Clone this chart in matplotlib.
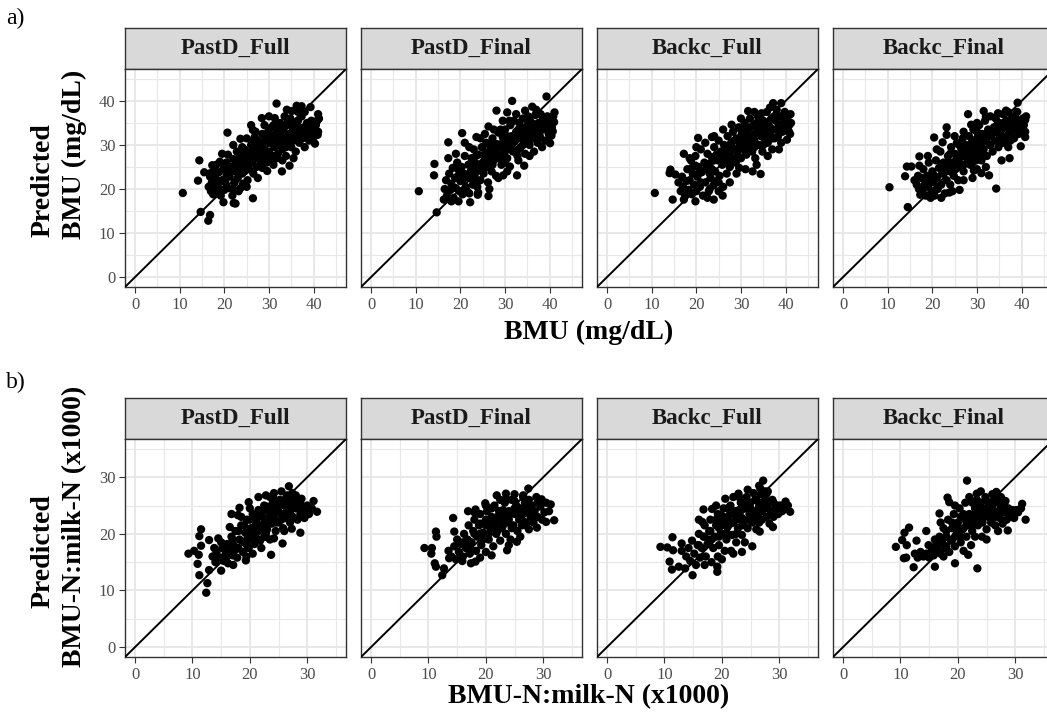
import matplotlib
matplotlib.use("Agg")
import matplotlib.pyplot as plt
from matplotlib.ticker import MultipleLocator

plt.rcParams['font.family'] = ['Liberation Serif', 'DejaVu Serif']

# ---------------- data ----------------
panel_titles = ["PastD_Full", "PastD_Final", "Backc_Full", "Backc_Final"]
row_a_xlabel = "BMU (mg/dL)"
row_b_xlabel = "BMU-N:milk-N (x1000)"
row_a_ylabel = ["Predicted", "BMU (mg/dL)"]
row_b_ylabel = ["Predicted", "BMU-N:milk-N (x1000)"]
row_a_ticks = [0, 10, 20, 30, 40]
row_b_ticks = [0, 10, 20, 30]
row_a_limits = (0, 45)
row_b_limits = (0, 35)

a_pastd_full = [
    (10.7,19.1),(14.7,14.8),(16.8,14.1),(16.4,12.8),(14.4,26.5),(14.1,21.9),(15.5,23.8),(17.3,25.4),(16.9,23.6),(20.7,32.8),
    (19.8,17.0),(22.1,16.8),(22.5,16.7),(26.4,17.9),(23.6,31.4),(31.7,39.4),(36.2,38.9),(37.3,38.8),(39.3,38.6),(41.0,37.0),
    (40.3,30.3),(40.9,32.3),(32.9,24.0),(34.6,25.3),(29.6,24.1),(28.4,36.1),(31.3,36.1),(35.1,37.7),(26.4,33.4),(26.6,31.2),
    (23.0,24.4),(23.6,20.2),(16.5,20.5),(17.0,19.5),(17.2,21.5),(17.5,18.8),(17.8,20.2),(18.0,22.5),(18.3,19.0),(18.5,21.0),
    (18.8,23.8),(19.0,20.0),(19.2,18.5),(19.5,22.0),(19.8,24.5),(20.0,19.8),(20.2,21.5),(20.5,26.0),(20.5,23.0),(16.8,22.8),
    (17.5,24.0),(18.2,25.5),(19.0,26.2),(20.8,27.8),(21.0,20.2),(21.2,22.8),(21.5,25.0),(21.8,18.5),(22.0,26.8),(22.3,21.5),
    (22.5,24.0),(22.8,28.5),(23.0,22.5),(23.2,19.5),(23.5,26.0),(23.8,27.8),(24.0,23.5),(24.2,21.2),(24.5,29.0),(24.8,25.2),
    (25.0,27.0),(25.2,22.0),(25.5,24.5),(25.8,28.2),(26.0,30.0),(26.2,26.0),(26.5,23.5),(26.8,27.5),(27.0,29.5),(27.2,25.0),
    (27.5,31.0),(27.8,28.0),(28.0,26.5),(28.2,30.0),(28.5,32.5),(28.8,27.0),(29.0,29.0),(29.2,31.5),(29.5,26.0),(29.8,33.0),
    (30.0,28.5),(30.2,30.5),(30.5,32.0),(30.8,27.5),(31.0,34.5),(31.2,29.5),(31.5,31.0),(31.8,33.5),(32.0,28.0),(32.2,30.5),
    (32.5,35.0),(32.8,32.0),(33.0,29.0),(33.2,33.5),(33.5,31.0),(33.8,27.5),(34.0,34.5),(34.2,30.0),(34.5,32.5),(34.8,36.0),
    (35.0,29.5),(35.2,33.0),(35.5,31.0),(35.8,34.5),(36.0,28.5),(36.2,32.0),(36.5,35.5),(36.8,30.5),(37.0,33.5),(37.3,36.5),
    (37.5,31.5),(37.8,34.0),(38.0,29.5),(38.3,32.5),(38.5,35.0),(38.8,33.0),(39.0,31.0),(39.5,34.0),(40.0,33.5),(40.5,34.5),
    (40.8,35.5),(41.0,33.0),(41.2,36.0),(40.2,32.0),(36.5,37.5),(33.5,36.5),(29.0,34.5),(27.0,33.0),(25.0,31.5),(24.0,29.5),
    (22.0,30.0),(31.0,25.5),(33.0,26.5),(35.5,27.0),(28.5,24.8),(27.5,22.5),(25.0,20.5),(22.0,20.0),(19.5,28.0),(26.0,34.5),
    (30.0,36.5),(34.0,38.0),(38.0,37.5),(30.5,26.5),(25.5,26.5),(24.5,24.0),(23.0,25.5),(21.0,24.0),(28.0,28.8),(29.0,30.8),
    (31.0,32.2),(32.0,33.0),(33.0,30.5),(34.0,31.5),(35.0,34.5),(36.0,33.5),(37.0,32.0),(26.0,28.5),(27.0,27.0),(24.0,26.5),
    (20.0,25.0),(18.0,24.0),
    (22.5,25.5),(23.5,24.8),(24.5,27.2),(25.5,25.8),(26.5,29.2),(27.5,27.5),(28.5,29.8),(29.5,28.2),(30.5,31.2),(31.5,29.8),
    (32.5,31.8),(33.5,34.2),(34.5,30.8),(35.5,32.5),(36.5,34.0),(37.5,33.0),(38.5,32.0),(39.5,35.5),(26.8,31.8),(28.2,26.0),
    (30.2,33.8),(32.2,34.2),(34.2,35.2),(29.8,27.0),(27.8,30.5),(24.8,28.0),(23.2,27.0),(31.8,27.0),(33.8,29.5),(36.8,31.2),
]

a_pastd_final = [
    (10.7,19.5),(14.7,14.7),(14.2,25.7),(14.1,23.1),(17.3,30.6),(17.3,27.0),(20.4,32.7),(23.6,31.8),(16.3,17.6),(19.6,17.2),
    (22.2,17.0),(23.9,18.7),(26.3,18.4),(28.1,37.8),(31.6,40.0),(36.1,38.7),(39.3,41.0),(41.1,37.4),(40.1,30.4),(40.4,32.1),
    (40.7,33.1),(29.6,23.1),(32.7,23.1),(34.3,25.3),(31.1,25.1),(26.3,34.2),(30.5,37.4),(37.8,34.6),
    (16.5,20.0),(16.8,22.0),(17.0,18.5),(17.5,23.5),(17.8,19.8),(18.0,21.2),(18.3,24.8),(18.5,18.0),(18.8,22.5),(19.0,20.2),
    (19.3,26.0),(19.5,23.0),(19.8,19.5),(20.0,21.8),(20.3,25.0),(20.5,18.8),(20.8,23.5),(21.0,27.5),(21.2,20.5),(21.5,22.8),
    (21.8,25.5),(22.0,19.0),(22.3,24.0),(22.5,27.0),(22.8,21.0),(23.0,29.0),(23.2,23.0),(23.5,25.8),(23.8,20.5),(24.0,27.8),
    (24.2,24.2),(24.5,22.0),(24.8,29.5),(25.0,26.0),(25.2,23.5),(25.5,28.0),(25.8,30.5),(26.0,25.0),(26.2,21.5),(26.5,27.2),
    (26.8,29.8),(27.0,24.0),(27.2,31.5),(27.5,26.5),(27.8,28.8),(28.0,23.0),(28.2,30.2),(28.5,32.8),(28.8,27.0),(29.0,29.5),
    (29.2,25.5),(29.5,31.8),(29.8,28.0),(30.0,33.5),(30.2,30.0),(30.5,27.0),(30.8,31.5),(31.0,29.0),(31.2,34.5),(31.5,32.0),
    (31.8,28.5),(32.0,35.5),(32.2,30.8),(32.5,33.0),(32.8,27.5),(33.0,31.5),(33.2,35.0),(33.5,29.5),(33.8,33.0),(34.0,36.0),
    (34.2,31.0),(34.5,28.0),(34.8,34.0),(35.0,32.0),(35.2,36.5),(35.5,30.0),(35.8,33.5),(36.0,35.0),(36.2,31.5),(36.5,28.5),
    (36.8,36.8),(37.0,33.0),(37.3,30.5),(37.5,35.0),(37.8,32.0),(38.0,37.0),(38.3,29.5),(38.5,33.5),(38.8,35.5),(39.0,31.0),
    (39.3,34.0),(39.5,36.5),(40.0,35.0),(40.3,36.0),(40.5,34.0),(40.8,36.5),(41.0,35.2),(39.8,32.5),(37.0,38.0),(34.5,37.8),
    (32.5,37.0),(29.5,35.5),(27.5,33.5),(25.5,32.5),(24.5,31.5),(22.0,29.5),(19.0,28.0),(21.0,30.5),(26.5,20.0),(28.5,22.5),
    (30.5,24.0),(33.0,26.5),(35.5,27.5),(24.0,19.2),(21.5,19.5),(18.0,17.2),(28.0,28.0),(29.0,27.0),(30.0,29.0),(31.0,30.5),
    (27.0,28.5),(26.0,26.5),(25.0,24.5),(23.0,24.5),(22.0,22.5),(33.0,33.5),(35.0,34.5),(36.0,33.0),
    (22.5,26.0),(23.5,27.5),(24.5,25.5),(25.5,26.8),(26.5,28.5),(27.5,29.8),(28.5,27.8),(29.5,30.5),(30.5,32.0),(31.5,30.0),
    (32.5,32.0),(33.5,34.0),(34.5,32.5),(35.5,35.5),(36.5,34.2),(37.5,33.0),(38.5,36.2),(39.5,33.5),(27.2,25.5),(29.0,33.5),
    (31.0,35.5),(33.0,29.0),(35.0,30.8),(25.0,29.5),(23.0,22.0),(20.5,22.0),(19.5,24.5),(37.0,37.0),(34.0,30.0),(30.0,26.0),
]

a_backc_full = [
    (10.7,19.1),(14.7,17.6),(14.2,24.4),(14.0,23.6),(15.3,23.3),(17.2,28.0),(19.8,25.3),(20.4,31.6),(23.5,31.8),(23.9,17.6),
    (25.9,18.5),(19.8,17.2),(17.2,17.6),(31.6,37.7),(37.2,39.5),(39.0,39.5),(41.1,37.0),(40.3,31.2),(40.7,33.1),(34.4,23.4),
    (32.6,24.0),(29.6,24.8),(27.9,34.6),(34.6,37.2),
    (16.0,21.5),(16.5,19.5),(16.8,22.8),(17.0,20.5),(17.5,18.5),(17.8,21.8),(18.0,24.5),(18.3,19.8),(18.5,22.0),(18.8,26.5),
    (19.0,18.8),(19.2,23.5),(19.5,21.0),(19.8,27.5),(20.0,19.5),(20.2,22.8),(20.5,25.0),(20.8,20.5),(21.0,29.0),(21.2,23.8),
    (21.5,18.5),(21.8,26.0),(22.0,21.5),(22.2,24.5),(22.5,28.0),(22.8,19.5),(23.0,25.8),(23.2,22.5),(23.5,27.2),(23.8,20.8),
    (24.0,29.5),(24.2,24.0),(24.5,21.8),(24.8,26.5),(25.0,31.0),(25.2,23.0),(25.5,28.5),(25.8,25.5),(26.0,20.5),(26.2,30.0),
    (26.5,26.8),(26.8,23.5),(27.0,32.0),(27.2,28.0),(27.5,25.0),(27.8,30.5),(28.0,27.0),(28.2,33.0),(28.5,29.0),(28.8,26.0),
    (29.0,31.5),(29.2,28.0),(29.5,34.0),(29.8,30.0),(30.0,27.0),(30.2,32.5),(30.5,29.5),(30.8,35.0),(31.0,31.0),(31.2,27.8),
    (31.5,33.5),(31.8,30.0),(32.0,36.0),(32.2,32.0),(32.5,28.5),(32.8,34.5),(33.0,31.0),(33.2,27.0),(33.5,33.0),(33.8,36.5),
    (34.0,30.0),(34.2,34.0),(34.5,32.0),(34.8,28.5),(35.0,35.5),(35.2,31.5),(35.5,33.8),(35.8,37.5),(36.0,30.5),(36.2,34.5),
    (36.5,32.5),(36.8,36.0),(37.0,29.0),(37.3,33.5),(37.5,31.5),(37.8,35.5),(38.0,38.0),(38.3,32.0),(38.5,34.5),(38.8,36.5),
    (39.0,30.5),(39.3,33.0),(39.5,35.0),(40.0,34.0),(40.3,35.5),(40.5,36.5),(40.8,34.5),(41.0,32.5),(41.2,35.0),(39.8,37.5),
    (36.5,38.5),(33.0,37.5),(30.0,36.0),(26.0,33.5),(24.0,32.0),(22.0,30.5),(20.0,29.5),(18.5,27.0),(25.0,19.5),(22.5,18.0),
    (27.5,21.5),(29.0,23.5),(31.0,24.5),(33.5,25.5),(36.0,27.5),(38.5,29.0),(28.0,29.5),(26.0,27.5),(24.0,26.5),(30.0,31.0),
    (31.5,29.0),(33.0,32.5),(34.0,32.8),(35.0,33.0),(21.0,21.5),(23.0,23.5),
    (22.5,25.5),(23.5,24.5),(24.5,27.8),(25.5,26.5),(26.5,28.5),(27.5,29.0),(28.5,31.0),(29.5,29.0),(30.5,30.8),(31.5,32.0),
    (32.5,30.5),(33.5,35.0),(34.5,33.5),(35.5,35.0),(36.5,34.0),(37.5,36.5),(38.5,33.5),(39.5,36.5),(27.0,26.0),(29.0,26.5),
    (31.0,28.5),(33.0,29.5),(35.0,30.0),(37.0,31.5),(25.0,21.5),(23.0,20.0),(20.5,23.5),(19.0,24.8),(32.0,34.0),(30.0,33.5),
]

a_backc_final = [
    (10.4,20.4),(14.5,15.9),(13.9,22.9),(14.3,25.1),(15.3,25.1),(17.1,27.4),(17.1,25.3),(20.4,31.7),(22.3,30.6),(23.2,34.0),
    (28.0,37.0),(31.5,37.7),(34.7,37.2),(37.1,37.4),(39.1,39.6),(40.8,35.7),(40.8,31.8),(39.8,29.7),(37.3,27.0),(34.3,20.1),
    (32.7,23.1),(31.0,23.6),(29.3,24.2),(26.1,19.8),(23.8,19.2),(19.6,18.0),(19.4,18.5),(17.3,18.7),(23.2,32.3),(28.7,34.6),
    (25.4,26.6),
    (16.0,22.0),(16.5,21.0),(16.8,23.0),(17.0,20.0),(17.5,22.5),(17.8,19.5),(18.0,24.5),(18.3,21.0),(18.5,18.5),(18.8,23.0),
    (19.0,20.5),(19.2,26.0),(19.5,22.0),(19.8,19.5),(20.0,24.0),(20.2,21.5),(20.5,18.5),(20.8,26.5),(21.0,22.5),(21.2,20.0),
    (21.5,24.8),(21.8,28.5),(22.0,21.0),(22.2,23.5),(22.5,26.0),(22.8,19.0),(23.0,24.5),(23.2,22.0),(23.5,27.5),(23.8,25.0),
    (24.0,21.0),(24.2,29.5),(24.5,26.0),(24.8,23.0),(25.0,28.0),(25.2,24.5),(25.5,30.5),(25.8,22.0),(26.0,27.0),(26.2,25.0),
    (26.5,29.0),(26.8,31.5),(27.0,24.0),(27.2,27.5),(27.5,30.0),(27.8,26.0),(28.0,28.8),(28.2,32.0),(28.5,25.5),(28.8,30.5),
    (29.0,27.5),(29.2,33.5),(29.5,29.5),(29.8,26.5),(30.0,31.5),(30.2,28.5),(30.5,34.5),(30.8,30.0),(31.0,26.5),(31.2,32.5),
    (31.5,29.0),(31.8,35.5),(32.0,31.0),(32.2,27.5),(32.5,33.5),(32.8,30.0),(33.0,36.5),(33.2,32.0),(33.5,28.5),(33.8,34.0),
    (34.0,31.0),(34.2,36.0),(34.5,33.0),(34.8,29.5),(35.0,35.0),(35.2,31.5),(35.5,33.5),(35.8,37.0),(36.0,30.5),(36.2,34.0),
    (36.5,32.0),(36.8,35.5),(37.0,29.5),(37.3,33.0),(37.5,31.0),(37.8,36.0),(38.0,34.0),(38.3,31.5),(38.5,35.0),(38.8,33.5),
    (39.0,37.5),(39.3,32.5),(39.5,35.5),(40.0,34.0),(40.3,36.0),(40.5,34.5),(40.8,33.0),(41.0,36.5),(36.5,37.8),(32.0,36.5),
    (30.0,35.0),(27.0,33.0),(25.0,32.0),(21.0,29.0),(19.0,27.5),(27.0,22.0),(29.0,22.5),(30.0,24.5),(32.0,25.0),(35.5,26.5),
    (24.5,19.5),(22.0,18.0),(28.0,27.0),(29.0,28.0),(30.0,28.0),(26.0,25.5),(24.0,24.0),(31.0,30.5),(33.0,32.0),(34.0,33.0),
    (35.0,32.5),
    (22.5,24.0),(23.5,26.0),(24.5,25.0),(25.5,27.0),(26.5,27.8),(27.5,28.8),(28.5,29.5),(29.5,31.0),(30.5,29.5),(31.5,31.5),
    (32.5,32.0),(33.5,33.0),(34.5,34.5),(35.5,34.0),(36.5,35.0),(37.5,34.5),(38.5,36.5),(39.5,34.0),(27.0,25.5),(29.0,26.0),
    (31.0,28.0),(33.0,30.0),(26.0,30.0),(24.0,28.0),(22.0,25.5),(20.5,23.0),(18.5,22.0),(35.5,30.5),(37.5,32.5),(30.0,33.0),
]

b_pastd_full = [
    (9.3,16.5),(10.3,17.0),(11.1,16.3),(11.5,20.8),(11.2,19.6),(11.5,17.9),(10.9,14.7),(11.2,12.7),(12.6,11.3),(12.4,9.6),
    (12.9,18.9),(12.9,13.6),(14.5,19.2),(15.0,13.5),(17.1,14.5),(19.3,15.3),(17.9,23.3),(16.8,23.5),(16.5,21.2),(18.2,24.6),
    (19.8,25.6),(21.5,26.5),(22.8,26.8),(24.2,27.2),(26.8,28.4),(27.4,27.2),(31.1,25.8),(31.7,23.9),(29.7,24.6),(28.8,20.2),
    (27.3,20.9),(25.7,18.3),(23.7,16.3),(24.2,19.2),(22.8,19.5),(19.4,16.0),
    (13.5,16.0),(14.0,15.0),(14.2,16.8),(14.8,15.8),(15.2,17.5),(15.5,15.2),(15.8,16.5),(16.0,18.2),(16.2,14.8),(16.5,17.0),
    (16.8,19.5),(17.0,16.2),(17.2,18.0),(17.5,20.5),(17.8,15.8),(18.0,17.5),(18.2,19.0),(18.5,21.5),(18.8,16.8),(19.0,18.5),
    (19.2,20.2),(19.5,22.5),(19.8,17.5),(20.0,19.5),(20.2,21.0),(20.5,23.5),(20.8,18.2),(21.0,20.0),(21.2,22.0),(21.5,24.2),
    (21.8,18.8),(22.0,21.0),(22.2,23.0),(22.5,25.0),(22.8,20.2),(23.0,22.0),(23.2,24.0),(23.5,19.0),(23.8,21.8),(24.0,25.5),
    (24.2,23.0),(24.5,20.5),(24.8,24.5),(25.0,22.0),(25.2,26.0),(25.5,23.5),(25.8,21.0),(26.0,25.0),(26.2,22.8),(26.5,26.8),
    (26.8,24.0),(27.0,22.0),(27.2,25.5),(27.5,23.0),(27.8,26.0),(28.0,24.5),(28.3,22.5),(28.5,25.0),(28.8,23.5),(29.0,26.2),
    (29.3,24.0),(29.5,22.8),(30.0,25.0),(30.3,23.5),(30.8,24.5),(26.0,20.5),(22.0,17.5),(20.5,16.5),(18.5,23.0),(20.0,24.5),
    (23.5,26.5),(25.5,27.5),(21.5,19.0),(23.0,20.8),(19.5,19.0),(17.5,17.2),(16.0,16.0),(24.0,22.5),(25.0,24.0),(26.5,24.0),
    (27.5,24.8),(22.5,21.8),(21.0,21.5),(20.0,20.5),(28.0,26.8),(15.0,18.5),(13.8,17.5),
    (18.0,20.5),(19.0,21.5),(20.0,22.5),(21.0,22.8),(22.0,24.0),(23.0,24.8),(24.0,24.2),(25.0,25.2),(26.0,26.0),(27.0,26.5),
    (28.0,25.5),(29.0,25.0),(19.5,18.0),(20.5,19.0),(21.5,20.5),(22.5,19.5),(23.5,23.0),(24.5,22.0),(25.5,22.5),(26.5,25.2),
    (17.0,19.0),(16.0,17.2),(24.0,26.5),(21.5,23.0),(27.0,23.8),
]

b_pastd_final = [
    (9.3,17.5),(10.6,17.5),(10.5,16.5),(11.3,20.4),(11.4,19.5),(11.1,14.8),(11.3,14.2),(12.4,12.7),(12.7,13.9),(14.3,22.8),
    (14.5,20.4),(16.9,24.0),(18.2,24.3),(19.9,25.4),(21.9,26.8),(23.5,27.1),(26.5,26.8),(27.4,28.0),(29.7,26.1),(31.3,25.2),
    (31.9,22.4),(30.5,22.1),(28.9,21.1),(25.4,18.6),(23.7,17.1),(17.4,14.8),(18.2,15.1),(13.6,15.7),
    (13.5,17.0),(14.0,16.0),(14.5,17.8),(14.8,15.5),(15.0,19.0),(15.3,16.8),(15.6,18.2),(15.9,15.2),(16.2,20.0),(16.5,17.5),
    (16.8,19.0),(17.0,21.5),(17.2,16.5),(17.5,18.5),(17.8,20.5),(18.0,22.5),(18.3,17.0),(18.5,19.5),(18.8,21.5),(19.0,23.5),
    (19.2,18.0),(19.5,20.2),(19.8,22.0),(20.0,16.8),(20.2,24.0),(20.5,19.0),(20.8,21.0),(21.0,23.0),(21.3,17.8),(21.5,25.0),
    (21.8,20.0),(22.0,22.0),(22.3,24.0),(22.5,18.8),(22.8,21.0),(23.0,23.0),(23.3,25.5),(23.5,20.0),(23.8,22.0),(24.0,24.0),
    (24.3,19.0),(24.5,26.0),(24.8,21.5),(25.0,23.5),(25.3,25.0),(25.5,20.5),(25.8,22.5),(26.0,24.5),(26.3,21.5),(26.5,23.5),
    (26.8,25.5),(27.0,22.0),(27.3,24.0),(27.5,20.8),(27.8,23.0),(28.0,25.0),(28.3,22.0),(28.5,24.0),(28.8,26.5),(29.0,23.0),
    (29.5,24.8),(29.8,22.5),(30.2,23.8),(30.5,25.5),(31.0,24.0),(26.0,19.5),(24.0,18.0),(21.0,16.2),(19.0,15.8),(16.0,16.0),
    (18.0,23.8),(20.0,25.0),(22.5,26.0),(25.0,27.0),(21.5,22.0),(22.0,20.5),(23.0,21.5),(24.0,22.5),(20.0,21.5),(19.0,20.0),
    (25.0,24.5),(26.5,26.5),(27.5,26.0),(28.0,23.5),(17.5,17.0),
    (18.0,20.0),(19.0,21.8),(20.0,22.5),(21.0,22.0),(22.0,23.0),(23.0,24.2),(24.0,23.2),(25.0,25.8),(26.0,23.0),(27.0,24.8),
    (28.0,24.2),(29.0,25.5),(19.5,19.0),(20.5,20.0),(21.5,21.0),(22.5,22.5),(23.5,23.8),(24.5,21.0),(25.5,24.0),(26.5,22.2),
    (17.0,18.0),(16.0,18.5),(23.5,26.2),(21.0,24.5),(27.0,21.5),
]

b_backc_full = [
    (9.3,17.7),(10.5,17.6),(11.4,19.4),(11.5,17.1),(13.0,18.3),(13.0,17.0),(10.9,15.1),(11.3,13.7),(12.5,14.2),(13.6,13.9),
    (14.9,12.7),(16.8,24.3),(18.3,24.4),(20.6,26.2),(22.9,27.1),(25.5,27.2),(27.2,29.4),(26.7,28.0),(27.8,27.1),(29.7,25.0),
    (31.1,25.7),(31.9,23.9),(28.9,21.2),(26.6,20.4),(25.3,17.8),(23.5,16.8),(21.6,17.0),(19.2,13.3),(19.2,14.2),(19.3,16.0),
    (16.6,22.1),
    (13.8,16.0),(14.2,17.5),(14.5,15.2),(14.8,18.8),(15.2,16.5),(15.5,14.5),(15.8,18.0),(16.0,20.0),(16.2,15.8),(16.5,17.5),
    (16.8,19.5),(17.0,21.5),(17.2,16.0),(17.5,18.2),(17.8,20.5),(18.0,22.5),(18.2,15.0),(18.5,17.5),(18.8,19.5),(19.0,21.5),
    (19.3,23.5),(19.5,18.0),(19.8,20.0),(20.0,22.0),(20.3,24.5),(20.5,17.0),(20.8,19.0),(21.0,21.2),(21.2,23.2),(21.5,25.0),
    (21.8,19.8),(22.0,22.0),(22.3,24.0),(22.5,18.5),(22.8,21.0),(23.0,23.0),(23.3,25.5),(23.5,19.8),(23.8,22.2),(24.0,24.5),
    (24.3,26.5),(24.5,21.0),(24.8,23.5),(25.0,25.5),(25.3,22.0),(25.5,24.0),(25.8,26.0),(26.0,20.8),(26.3,23.0),(26.5,25.0),
    (26.8,27.0),(27.0,22.5),(27.3,24.5),(27.5,26.2),(27.8,23.0),(28.0,25.5),(28.3,21.8),(28.5,24.0),(28.8,26.0),(29.0,23.0),
    (29.3,24.5),(29.8,23.5),(30.2,25.0),(30.5,24.0),(31.0,24.5),(31.5,25.0),(24.0,18.5),(22.0,16.5),(20.0,15.5),(17.0,14.5),
    (19.0,25.0),(22.0,26.5),(24.5,27.8),(21.0,20.0),(22.5,22.5),(23.5,21.5),(25.0,23.0),(26.0,24.0),(20.5,21.5),(19.5,19.5),
    (27.0,25.5),(28.0,27.5),(26.5,28.5),(16.0,22.5),(18.0,19.0),
    (18.0,20.5),(19.0,22.5),(20.0,23.2),(21.0,22.5),(22.0,23.5),(23.0,24.2),(24.0,25.5),(25.0,24.5),(26.0,26.0),(27.0,24.0),
    (28.0,24.5),(29.0,25.5),(19.5,21.0),(20.5,20.0),(21.5,21.8),(22.5,20.0),(23.5,22.8),(24.5,22.5),(25.5,23.0),(26.5,22.0),
    (17.0,19.5),(16.0,18.0),(23.0,26.5),(21.0,24.5),(27.5,27.5),
]

b_backc_final = [
    (9.2,17.7),(10.3,18.9),(10.7,20.2),(11.5,21.1),(11.1,18.0),(10.6,15.7),(11.0,15.8),(12.3,14.1),(12.8,18.8),(14.5,20.5),
    (14.9,18.0),(16.0,14.2),(16.8,23.6),(18.2,26.4),(18.5,25.6),(21.6,29.4),(23.3,27.1),(26.7,27.4),(27.9,25.9),(31.2,25.3),
    (31.8,22.5),(30.2,24.2),(28.7,20.6),(24.2,19.5),(21.8,16.3),(23.4,13.9),(19.5,14.8),(17.5,16.0),
    (12.5,16.5),(13.0,15.8),(13.5,16.8),(14.0,16.0),(14.5,16.5),(15.0,15.8),(15.5,17.2),(15.8,16.2),(16.2,18.0),(16.5,17.0),
    (16.8,19.5),(17.0,16.5),(17.3,18.5),(17.5,21.0),(17.8,17.5),(18.0,19.5),(18.3,22.5),(18.5,16.8),(18.8,18.8),(19.0,21.0),
    (19.3,23.5),(19.5,17.8),(19.8,20.0),(20.0,22.0),(20.3,24.5),(20.5,18.5),(20.8,20.8),(21.0,22.8),(21.3,25.5),(21.5,19.5),
    (21.8,21.5),(22.0,23.5),(22.3,18.0),(22.5,20.5),(22.8,22.5),(23.0,24.5),(23.3,26.0),(23.5,21.5),(23.8,23.5),(24.0,25.5),
    (24.3,22.0),(24.5,24.0),(24.8,26.5),(25.0,20.8),(25.3,23.0),(25.5,25.0),(25.8,22.0),(26.0,24.0),(26.3,26.0),(26.5,21.5),
    (26.8,23.5),(27.0,25.5),(27.3,22.8),(27.5,24.8),(27.8,21.8),(28.0,23.8),(28.3,25.8),(28.5,22.5),(28.8,24.5),(29.0,23.0),
    (29.5,24.2),(29.8,22.8),(30.5,23.8),(31.0,24.5),(26.0,27.0),(24.0,27.5),(22.0,26.5),(19.5,25.0),(17.0,22.0),(21.0,17.0),
    (23.0,19.5),(25.0,19.0),(27.0,20.5),(20.0,20.0),(21.0,21.0),(22.0,21.8),(23.0,22.5),(24.0,23.0),(25.0,24.5),(19.0,19.0),
    (18.0,17.8),(16.0,19.0),
    (18.0,20.5),(19.0,22.0),(20.0,21.0),(21.0,23.5),(22.0,22.5),(23.0,23.5),(24.0,24.5),(25.0,25.8),(26.0,25.0),(27.0,24.0),
    (28.0,25.0),(29.0,24.0),(19.5,19.5),(20.5,19.5),(21.5,22.0),(22.5,21.5),(23.5,25.0),(24.5,23.0),(25.5,23.8),(26.5,23.0),
    (17.0,18.5),(16.5,18.0),(22.5,25.5),(20.5,23.0),(27.5,26.5),
]

row_a_panels = [a_pastd_full, a_pastd_final, a_backc_full, a_backc_final]
row_b_panels = [b_pastd_full, b_pastd_final, b_backc_full, b_backc_final]

# ---------------- layout ----------------
FW, FH = 1047, 717
fig = plt.figure(figsize=(FW / 100, FH / 100), dpi=100)
fig.patch.set_facecolor("white")


def rect(l, t, w, h):
    return [l / FW, 1 - (t + h) / FH, w / FW, h / FH]


panel_lefts = [125, 361, 597, 833]
PW = 221
GRID = "#E8E8E8"
DARK = "#333333"


def draw_row(panels, strip_top, panel_top, panel_h, limits, ticks):
    lo, hi = limits
    pad = (hi - lo) * 0.05
    for i, (pts, title) in enumerate(zip(panels, panel_titles)):
        left = panel_lefts[i]
        # strip
        sax = fig.add_axes(rect(left, strip_top, PW, panel_top - strip_top))
        sax.set_facecolor("#D9D9D9")
        sax.set_xticks([]); sax.set_yticks([])
        for s in sax.spines.values():
            s.set_color(DARK); s.set_linewidth(1.0)
        sax.text(0.5, 0.5, title, transform=sax.transAxes, ha="center", va="center",
                 fontsize=16.5, fontweight="bold", color="#1A1A1A")
        # panel
        ax = fig.add_axes(rect(left, panel_top, PW, panel_h))
        ax.set_xlim(lo - pad, hi + pad)
        ax.set_ylim(lo - pad, hi + pad)
        ax.xaxis.set_minor_locator(MultipleLocator(5))
        ax.yaxis.set_minor_locator(MultipleLocator(5))
        ax.set_xticks(ticks)
        ax.set_yticks(ticks)
        ax.grid(which="major", color=GRID, linewidth=1.4, zorder=0)
        ax.grid(which="minor", color=GRID, linewidth=0.8, zorder=0)
        ax.set_axisbelow(True)
        ax.tick_params(which="major", length=4, width=0.8, color=DARK, labelsize=12,
                       labelcolor="#4D4D4D", pad=3)
        ax.tick_params(which="minor", length=0)
        if i != 0:
            ax.tick_params(axis="y", which="both", left=False, labelleft=False)
        for s in ax.spines.values():
            s.set_color(DARK); s.set_linewidth(1.0)
        xs = [p[0] for p in pts]
        ys = [p[1] for p in pts]
        ax.scatter(xs, ys, s=36, color="black", edgecolors="none", zorder=2)
        ax.axline((0, 0), slope=1, color="black", linewidth=1.4, zorder=3)


draw_row(row_a_panels, 28, 69, 218, row_a_limits, row_a_ticks)
draw_row(row_b_panels, 398, 439, 218, row_b_limits, row_b_ticks)


def ftext(x, y, s, **kw):
    fig.text(x / FW, 1 - y / FH, s, **kw)


ftext(589, 332, row_a_xlabel, ha="center", va="center", fontsize=20, fontweight="bold")
ftext(589, 697, row_b_xlabel, ha="center", va="center", fontsize=20, fontweight="bold")
ftext(43, 180, row_a_ylabel[0], ha="center", va="center", rotation=90, fontsize=20, fontweight="bold")
ftext(74, 154, row_a_ylabel[1], ha="center", va="center", rotation=90, fontsize=20, fontweight="bold")
ftext(43, 551, row_b_ylabel[0], ha="center", va="center", rotation=90, fontsize=20, fontweight="bold")
ftext(75, 526, row_b_ylabel[1], ha="center", va="center", rotation=90, fontsize=20, fontweight="bold")
ftext(6, 18, "a)", ha="left", va="center", fontsize=17)
ftext(6, 382, "b)", ha="left", va="center", fontsize=17)

fig.savefig("out.png", dpi=100, facecolor="white")
